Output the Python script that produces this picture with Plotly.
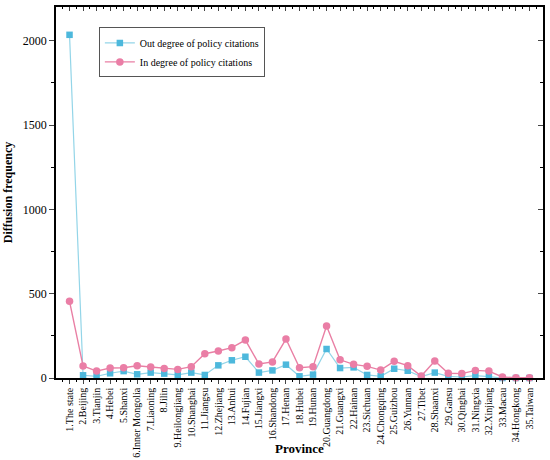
import plotly.graph_objects as go

provinces = ["1.The state", "2.Beijing", "3.Tianjin", "4.Hebei", "5.Shanxi", "6.Inner Mongolia",
             "7.Liaoning", "8.Jilin", "9.Heilongjiang", "10.Shanghai", "11.Jiangsu", "12.Zhejiang",
             "13.Anhui", "14.Fujian", "15.Jiangxi", "16.Shandong", "17.Henan", "18.Hubei",
             "19.Hunan", "20.Guangdong", "21.Guangxi", "22.Hainan", "23.Sichuan", "24.Chongqing",
             "25.Guizhou", "26.Yunnan", "27.Tibet", "28.Shaanxi", "29.Gansu", "30.Qinghai",
             "31.Ningxia", "32.Xinjiang", "33.Macau", "34.Hongkong", "35.Taiwan"]

out_degree = [2035, 16, 10, 28, 41, 22, 32, 26, 18, 32, 18, 75,
              105, 126, 32, 45, 79, 10, 20, 172, 59, 63, 18, 10,
              55, 43, 8, 32, 10, 6, 14, 8, 0, 0, 0]

in_degree = [455, 71, 41, 59, 61, 73, 65, 57, 51, 67, 144, 160,
             180, 225, 83, 95, 231, 61, 67, 308, 108, 81, 69, 47,
             99, 73, 12, 101, 28, 26, 45, 41, 6, 2, 2]

y_ticks = [0, 500, 1000, 1500, 2000]

xs = list(range(1, len(provinces) + 1))
font = "Liberation Serif, Times New Roman, serif"

fig = go.Figure()
fig.add_trace(go.Scatter(
    x=xs, y=out_degree, mode="lines+markers", name="Out degree of policy citations",
    line=dict(color="#93d5e8", width=1.2),
    marker=dict(symbol="square", size=6.5, color="#4db8dc"),
    cliponaxis=False))
fig.add_trace(go.Scatter(
    x=xs, y=in_degree, mode="lines+markers", name="In degree of policy citations",
    line=dict(color="#e97fa4", width=1.4),
    marker=dict(symbol="circle", size=7.5, color="#ea7ea6"),
    cliponaxis=False))
# empty trace so the top / right frame axes get drawn
fig.add_trace(go.Scatter(x=[None], y=[None], xaxis="x2", yaxis="y2",
                         showlegend=False, hoverinfo="skip"))

fig.update_layout(
    width=550, height=460,
    margin=dict(l=56, r=7, t=7, b=82),
    plot_bgcolor="white", paper_bgcolor="white",
    font=dict(family=font, color="black", size=12),
    showlegend=True,
    legend=dict(x=0.088, y=0.945, xanchor="left", yanchor="top",
                bordercolor="#555555", borderwidth=1, bgcolor="white",
                font=dict(size=10), tracegroupgap=0, itemwidth=30),
    xaxis=dict(range=[0, 36], tickvals=xs, ticktext=provinces, tickangle=-90,
               tickfont=dict(size=10), ticks="outside", ticklen=4, tickwidth=1,
               showline=True, linecolor="black", linewidth=1.5, showgrid=False,
               zeroline=False, automargin=False,
               minor=dict(tick0=0.5, dtick=1, ticks="outside", ticklen=2.5, tickcolor="black")),
    yaxis=dict(range=[0, 2200], tickvals=y_ticks, ticks="outside",
               ticklen=5, tickwidth=1, showline=True, linecolor="black", linewidth=1.5,
               showgrid=False, zeroline=False, automargin=False,
               minor=dict(dtick=250, ticks="outside", ticklen=3, tickcolor="black"),
               title=dict(text="<b>Diffusion frequency</b>", font=dict(size=12), standoff=8)),
    xaxis2=dict(overlaying="x", anchor="y", side="top", range=[0, 36], tickvals=xs,
                showticklabels=False, ticks="inside", ticklen=4, showline=True,
                linecolor="black", linewidth=1.5, showgrid=False, zeroline=False,
                automargin=False,
                minor=dict(tick0=0.5, dtick=1, ticks="inside", ticklen=2.5, tickcolor="black")),
    yaxis2=dict(overlaying="y", anchor="x", side="right", range=[0, 2200],
                tickvals=y_ticks, showticklabels=False, ticks="inside",
                ticklen=5, showline=True, linecolor="black", linewidth=1.5, showgrid=False,
                zeroline=False, automargin=False,
                minor=dict(dtick=250, ticks="inside", ticklen=3, tickcolor="black")),
    annotations=[dict(text="<b>Province</b>", xref="paper", yref="paper", x=0.5, y=-0.19,
                      xanchor="center", yanchor="middle", showarrow=False,
                      font=dict(size=13))],
)

# drop the browser's default body margin so the 550x460 figure fills the window
fig.write_html("out.html", config={"displayModeBar": False},
               post_script="document.body.style.margin='0px';")
